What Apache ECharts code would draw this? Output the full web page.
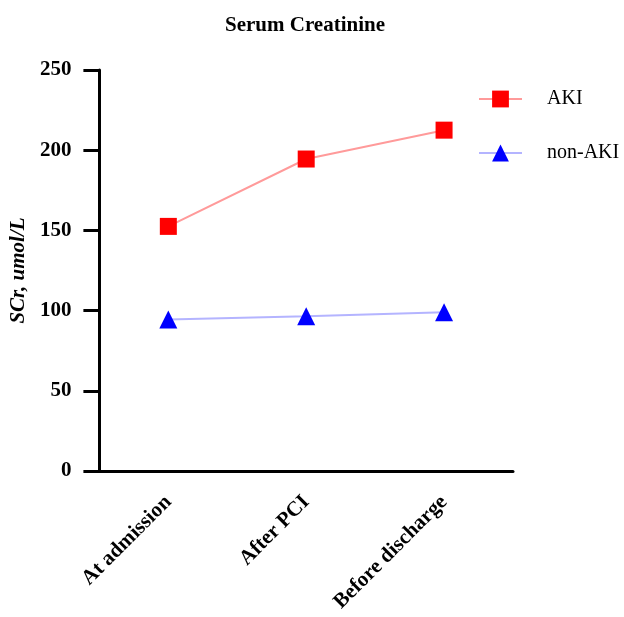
<!DOCTYPE html>
<html>
<head>
<meta charset="utf-8">
<script src="https://cdn.jsdelivr.net/npm/echarts@6/dist/echarts.min.js"></script>
<style>html,body{margin:0;padding:0;background:#fff}#c{width:624px;height:617px}</style>
</head>
<body>
<div id="c"></div>
<script>
const categories = ["At admission", "After PCI", "Before discharge"];
const akiValues = [152.5, 194.5, 212.5];
const nonAkiValues = [94.5, 96.5, 99];
const yTicks = [0, 50, 100, 150, 200, 250];
const seriesNames = ["AKI", "non-AKI"];

const FONT = '"Liberation Serif", "Times New Roman", serif';
const chart = echarts.init(document.getElementById('c'));
chart.setOption({
  animation: false,
  backgroundColor: '#ffffff',
  title: {
    text: 'Serum Creatinine',
    left: 220, top: 10,
    textStyle: { fontFamily: FONT, fontWeight: 'bold', fontSize: 21, color: '#000' }
  },
  legend: {
    orient: 'vertical',
    left: 473, top: 84,
    itemWidth: 43, itemHeight: 21, itemGap: 34,
    data: seriesNames,
    textStyle: { fontFamily: FONT, fontSize: 20, color: '#000', padding: [0, 0, 0, 20] }
  },
  grid: { left: 98, right: 111, top: 70, bottom: 146, containLabel: false },
  xAxis: {
    type: 'category',
    data: categories,
    boundaryGap: true,
    axisLine: { lineStyle: { color: '#000', width: 3 } },
    axisTick: { alignWithLabel: true, length: 16, lineStyle: { color: '#000', width: 3 } },
    axisLabel: { rotate: 45, margin: 28, fontFamily: FONT, fontWeight: 'bold', fontSize: 21, color: '#000', interval: 0 }
  },
  yAxis: {
    type: 'value',
    min: yTicks[0], max: yTicks[yTicks.length - 1], interval: 50,
    name: 'SCr, umol/L',
    nameLocation: 'middle',
    nameGap: 64,
    nameTextStyle: { fontFamily: FONT, fontWeight: 'bold', fontStyle: 'italic', fontSize: 21, color: '#000' },
    splitLine: { show: false },
    axisLine: { show: true, lineStyle: { color: '#000', width: 3 } },
    axisTick: { show: true, length: 16, lineStyle: { color: '#000', width: 3 } },
    axisLabel: { margin: 28, fontFamily: FONT, fontWeight: 'bold', fontSize: 21, color: '#000' }
  },
  series: [
    {
      name: seriesNames[0], type: 'line', data: akiValues,
      symbol: 'rect', symbolSize: 17,
      itemStyle: { color: '#ff0000' },
      lineStyle: { color: '#ff9a9a', width: 2 }
    },
    {
      name: seriesNames[1], type: 'line', data: nonAkiValues,
      symbol: 'triangle', symbolSize: 18,
      itemStyle: { color: '#0000ff' },
      lineStyle: { color: '#b4b4ff', width: 2 }
    }
  ]
});
</script>
</body>
</html>
